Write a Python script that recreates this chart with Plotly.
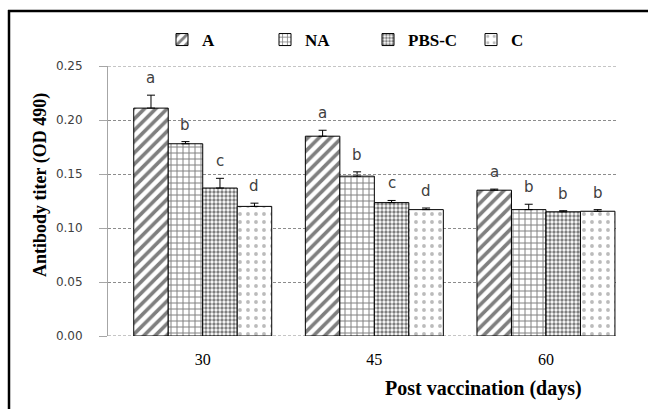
import plotly.graph_objects as go

days = ["30", "45", "60"]
groups = ["A", "NA", "PBS-C", "C"]
vals = {
    "A": [0.211, 0.185, 0.135],
    "NA": [0.178, 0.148, 0.117],
    "PBS-C": [0.137, 0.1235, 0.115],
    "C": [0.120, 0.117, 0.1155],
}
errs = {
    "A": [0.012, 0.0055, 0.001],
    "NA": [0.002, 0.004, 0.005],
    "PBS-C": [0.009, 0.002, 0.001],
    "C": [0.003, 0.0015, 0.0015],
}
letters = {
    "A": ["a", "a", "a"],
    "NA": ["b", "b", "b"],
    "PBS-C": ["c", "c", "b"],
    "C": ["d", "d", "b"],
}
y_ticks = [0.0, 0.05, 0.10, 0.15, 0.20, 0.25]

patterns = {
    "A": dict(shape="/", size=8, solidity=0.45, fgcolor="black", bgcolor="white"),
    "NA": dict(shape="+", size=6, solidity=0.3, fgcolor="black", bgcolor="white"),
    "PBS-C": dict(shape=".", size=4, solidity=0.55, fgcolor="black", bgcolor="white"),
    "C": dict(shape=".", size=8, solidity=0.18, fgcolor="#777777", bgcolor="white"),
}

W, H = 648, 409
L, R, T, B = 108, 31, 66, 73
pw, ph = W - L - R, H - T - B

fig = go.Figure()
for g in groups:
    fig.add_trace(go.Bar(
        name=g, x=days, y=vals[g],
        marker=dict(color="white", line=dict(color="black", width=1), pattern=patterns[g]),
        error_y=dict(type="data", symmetric=False, array=errs[g], arrayminus=[0] * 3,
                     color="black", thickness=1, width=4),
    ))

bar_px = 34.5
for j, g in enumerate(groups):
    for i, d in enumerate(days):
        fig.add_annotation(x=i, y=vals[g][i] + errs[g][i], text=letters[g][i],
                           showarrow=False, xanchor="center", yanchor="bottom", yshift=6,
                           xshift=(j - 1.5) * bar_px,
                           font=dict(family="DejaVu Sans", size=15, color="#404040"))

def px(x):
    return (x - L) / pw

def py(y):
    return (H - B - y) / ph

fig.add_annotation(x=px(40), y=py(185), xref="paper", yref="paper", text="<b>Antibody titer (OD 490)</b>",
                   textangle=-90, showarrow=False, xanchor="center", yanchor="middle",
                   font=dict(family="Liberation Serif", size=18, color="black"))
fig.add_annotation(x=px(483), y=py(388), xref="paper", yref="paper", text="<b>Post vaccination (days)</b>",
                   showarrow=False, xanchor="center", yanchor="middle",
                   font=dict(family="Liberation Serif", size=20, color="black"))

# edge gridlines (0.00 and 0.25) that plotly skips at the range limits
for yv in (y_ticks[0], y_ticks[-1]):
    fig.add_shape(type="line", xref="paper", yref="y", x0=0, x1=1, y0=yv, y1=yv,
                  line=dict(color="#8c8c8c", width=1, dash="3px,2px"), layer="below")

fig.add_shape(type="line", xref="paper", yref="paper", x0=px(9), x1=px(9), y0=py(10), y1=py(412),
              line=dict(color="black", width=2.5))
fig.add_shape(type="line", xref="paper", yref="paper", x0=px(8), x1=px(650), y0=py(11), y1=py(11),
              line=dict(color="black", width=2.5))

fig.update_layout(
    width=W, height=H, margin=dict(l=L, r=R, t=T, b=B),
    paper_bgcolor="white", plot_bgcolor="white",
    barmode="group", bargap=0.196, bargroupgap=0,
    showlegend=True,
    legend=dict(orientation="h", x=px(162), y=py(40), xanchor="left", yanchor="middle",
                entrywidth=58, entrywidthmode="pixels", itemwidth=30,
                font=dict(family="Liberation Serif", size=17, color="black", weight="bold"),
                bgcolor="rgba(0,0,0,0)"),
    xaxis=dict(type="category", range=[-0.552, 2.414], showline=False, showgrid=False,
               ticks="", ticklabelstandoff=12,
               tickfont=dict(family="Liberation Serif", size=16, color="black")),
    yaxis=dict(range=[0, 0.25], tickvals=y_ticks, tickformat=".2f",
               showline=True, linecolor="#a6a6a6", linewidth=1,
               ticks="outside", ticklen=8, tickcolor="#a6a6a6", ticklabelstandoff=14,
               showgrid=True, gridcolor="#8c8c8c", griddash="3px,2px", gridwidth=1,
               zeroline=False,
               tickfont=dict(family="DejaVu Sans", size=12, color="#404040")),
)

fig.write_html("out.html", post_script="document.body.style.margin='0';",
               config={"displayModeBar": False})
